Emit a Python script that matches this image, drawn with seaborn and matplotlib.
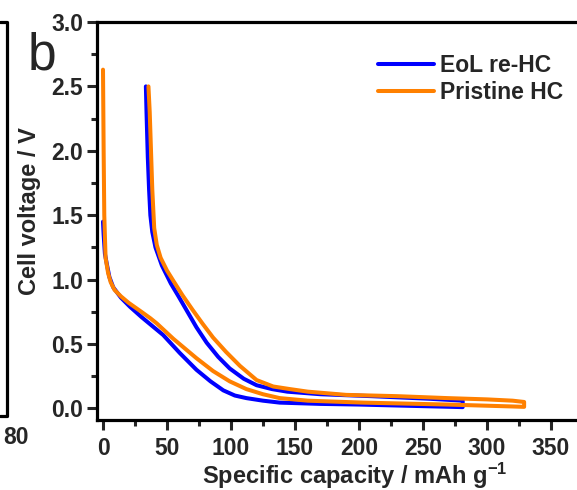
import numpy as np
import pandas as pd
import matplotlib
matplotlib.use("Agg")
import matplotlib.pyplot as plt
from matplotlib.lines import Line2D
from matplotlib.ticker import MultipleLocator
import seaborn as sns

# ---- data ----
# EoL re-HC: discharge (sodiation) branch then charge branch back
eol_dis_cap = [0, 0.5, 1.5, 3, 5, 8, 14, 21, 30, 47, 60, 73, 84, 94, 103, 112, 125, 138, 170, 200, 240, 281]
eol_dis_v   = [1.45, 1.35, 1.20, 1.12, 1.02, 0.94, 0.86, 0.79, 0.71, 0.57, 0.43, 0.30, 0.21, 0.14, 0.10, 0.08, 0.06, 0.045, 0.035, 0.03, 0.02, 0.01]
eol_chg_cap = [281, 255, 210, 170, 144, 132, 120, 110, 99, 90, 81, 73, 66, 59, 53, 46, 41, 38.5, 37, 36, 35, 34, 33.5]
eol_chg_v   = [0.06, 0.075, 0.095, 0.11, 0.13, 0.15, 0.18, 0.23, 0.31, 0.40, 0.51, 0.63, 0.75, 0.87, 0.97, 1.11, 1.25, 1.37, 1.5, 1.7, 1.95, 2.3, 2.5]

# Pristine HC
pri_dis_cap = [0, 0.5, 1, 2, 4, 6, 9, 14, 20, 30, 37, 42, 55, 73, 86, 99, 112, 125, 138, 160, 203, 269, 320, 329]
pri_dis_v   = [2.63, 2.0, 1.5, 1.17, 1.05, 0.98, 0.92, 0.87, 0.82, 0.75, 0.70, 0.66, 0.54, 0.39, 0.29, 0.21, 0.15, 0.11, 0.08, 0.06, 0.045, 0.03, 0.015, 0.012]
pri_chg_cap = [329, 320, 300, 269, 230, 190, 160, 146, 133, 120, 107, 96, 86, 78, 70, 62, 55, 50, 45, 42, 40, 38.5, 37.5, 36.5, 35.5]
pri_chg_v   = [0.05, 0.06, 0.07, 0.08, 0.095, 0.105, 0.13, 0.15, 0.17, 0.22, 0.33, 0.44, 0.55, 0.655, 0.765, 0.88, 0.99, 1.07, 1.17, 1.27, 1.40, 1.70, 2.0, 2.3, 2.5]

series = ["EoL re-HC", "Pristine HC"]
colors = ["#0000FF", "#FF8000"]

rows = []
for name, dc, dv, cc, cv in [(series[0], eol_dis_cap, eol_dis_v, eol_chg_cap, eol_chg_v),
                             (series[1], pri_dis_cap, pri_dis_v, pri_chg_cap, pri_chg_v)]:
    caps = list(dc) + list(cc)
    vs = list(dv) + list(cv)
    for i, (c, v) in enumerate(zip(caps, vs)):
        rows.append({"series": name, "order": i, "cap": c, "v": v})
df = pd.DataFrame(rows)

# ---- figure ----
sns.set_style("ticks")
plt.rcParams["font.family"] = ["Liberation Sans", "DejaVu Sans"]
plt.rcParams["mathtext.fontset"] = "custom"
plt.rcParams["mathtext.rm"] = "Liberation Sans:bold"
plt.rcParams["mathtext.bf"] = "Liberation Sans:bold"
plt.rcParams["mathtext.it"] = "Liberation Sans:bold"

FS = 16.5
W, H = 577, 490
fig = plt.figure(figsize=(W / 100, H / 100), dpi=100)
L, R, T, B = 97, 600, 22, 420
ax = fig.add_axes([L / W, 1 - B / H, (R - L) / W, (B - T) / H])

sns.lineplot(data=df, x="cap", y="v", hue="series", hue_order=series,
             palette=colors, sort=False, estimator=None, units="series",
             linewidth=2.9, ax=ax, legend=False)

x0 = -6 / 1.28
ax.set_xlim(x0, x0 + (R - L) / 1.28)
ax.set_ylim(-0.09, 3.0)
ax.xaxis.set_major_locator(MultipleLocator(50))
ax.xaxis.set_minor_locator(MultipleLocator(25))
ax.yaxis.set_major_locator(MultipleLocator(0.5))
ax.yaxis.set_minor_locator(MultipleLocator(0.25))
ax.yaxis.set_major_formatter(matplotlib.ticker.FormatStrFormatter("%.1f"))

for s in ["left", "bottom", "top"]:
    ax.spines[s].set_linewidth(2.3)
    ax.spines[s].set_color("black")
ax.spines["right"].set_visible(False)
ax.tick_params(which="major", direction="out", length=7, width=2.2,
               labelsize=FS, top=False, right=False)
ax.tick_params(which="minor", direction="out", length=4, width=2.2,
               top=False, right=False)
ax.tick_params(axis="x", which="major", pad=5.5)
ax.tick_params(axis="y", which="major", pad=3)
for lab in ax.get_xticklabels() + ax.get_yticklabels():
    lab.set_fontweight("bold")

ax.set_xlabel("Specific capacity / mAh g$^{-1}$", fontsize=17, fontweight="bold")
ax.set_ylabel("Cell voltage / V", fontsize=17, fontweight="bold")
ax.xaxis.set_label_coords((355 - L) / (R - L), -(461 - B) / (B - T), transform=ax.transAxes)
ax.yaxis.set_label_coords(-(L - 41) / (R - L), (B - 211) / (B - T), transform=ax.transAxes)

handles = [Line2D([], [], color=c, lw=2.9) for c in colors]
leg = ax.legend(handles, series, loc="upper left", frameon=False,
                bbox_to_anchor=((378 - L) / (R - L), (B - 54) / (B - T)),
                handlelength=2.46, handletextpad=0.25, labelspacing=0.17,
                borderaxespad=0, borderpad=0,
                prop={"family": "Liberation Sans", "weight": "bold", "size": FS})

# panel label
fig.text(28 / W, 1 - 70 / H, "b", fontsize=37, family="Liberation Sans",
         ha="left", va="baseline")

# remnant of neighbouring panel at the left edge
fig.add_artist(Line2D([0 / W, 7 / W, 7 / W, 0 / W],
                      [1 - 22 / H, 1 - 22 / H, 1 - 416 / H, 1 - 416 / H],
                      color="black", lw=2.3, transform=fig.transFigure))
fig.text(29 / W, 1 - 438 / H, "80", fontsize=FS, fontweight="bold",
         family="Liberation Sans", ha="right", va="center")

fig.savefig("out.png", dpi=100)
